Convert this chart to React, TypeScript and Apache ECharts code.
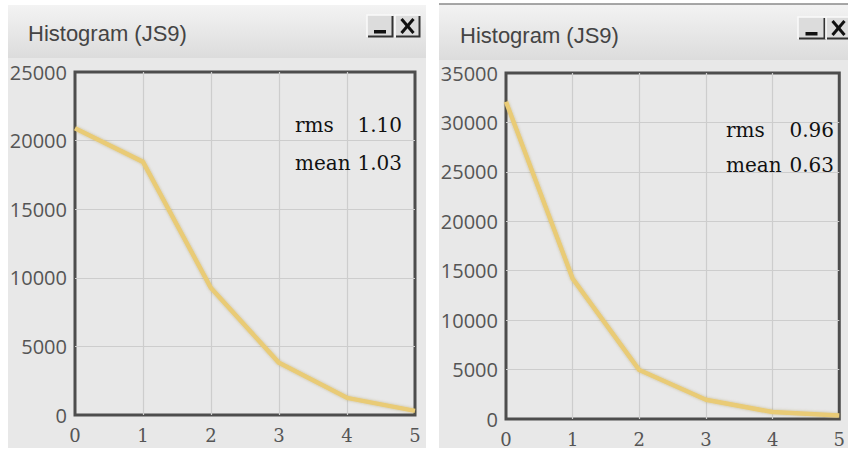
import React, { useEffect, useRef } from "react";
import * as echarts from "echarts";

const xValues = [0, 1, 2, 3, 4, 5];
const leftCounts = [20900, 18450, 9250, 3800, 1250, 300];
const rightCounts = [32100, 14200, 4950, 1950, 700, 350];
const leftYMax = 25000;
const rightYMax = 35000;
const yInterval = 5000;
const statNames = ["rms", "mean"];
const leftStatValues = ["1.10", "1.03"];
const rightStatValues = ["0.96", "0.63"];
const windowTitle = "Histogram (JS9)";

const LINE_COLOR = "#e9cb76";
const LABEL_COLOR = "#555";

function button(x: number, y: number, w: number, h: number, kind: "min" | "close") {
  const els: any[] = [
    { type: "rect", z: 5, shape: { x, y, width: w, height: h }, style: { fill: "#dcdcdc" } },
    { type: "polyline", z: 6, shape: { points: [[x, y + h], [x, y], [x + w, y]] }, style: { stroke: "#fafafa", lineWidth: 1.5, fill: null } },
    { type: "polyline", z: 6, shape: { points: [[x + 1, y + h - 0.5], [x + w - 0.5, y + h - 0.5], [x + w - 0.5, y + 1]] }, style: { stroke: "#333", lineWidth: 2, fill: null } },
  ];
  if (kind === "min") {
    els.push({ type: "rect", z: 7, shape: { x: x + w / 2 - 6, y: y + h - 7, width: 12, height: 3.5 }, style: { fill: "#111" } });
  } else {
    const cx = x + w / 2, cy = y + h / 2;
    els.push({ type: "line", z: 7, shape: { x1: cx - 6, y1: cy - 7, x2: cx + 6, y2: cy + 7 }, style: { stroke: "#111", lineWidth: 3 } });
    els.push({ type: "line", z: 7, shape: { x1: cx + 6, y1: cy - 7, x2: cx - 6, y2: cy + 7 }, style: { stroke: "#111", lineWidth: 3 } });
  }
  return els;
}

function windowFrame(x: number, w: number, titleTop: number, titleBottom: number, titleX: number, titleY: number, topLine: boolean) {
  const els: any[] = [
    { type: "rect", z: -20, shape: { x, y: titleTop, width: w, height: 448 - titleTop }, style: { fill: "#e8e8e8" } },
    {
      type: "rect", z: -19, shape: { x, y: titleTop, width: w, height: titleBottom - titleTop },
      style: {
        fill: new echarts.graphic.LinearGradient(0, 0, 0, 1, [
          { offset: 0, color: "#f3f3f3" },
          { offset: 1, color: "#dcdcdc" },
        ]),
      },
    },
    {
      type: "text", z: 10, x: titleX, y: titleY,
      style: { text: windowTitle, font: "22px 'Liberation Sans', Arial, sans-serif", fill: "#444", verticalAlign: "middle", align: "left" },
    },
  ];
  if (topLine) {
    els.push({ type: "line", z: -18, shape: { x1: x, y1: titleTop, x2: x + w, y2: titleTop }, style: { stroke: "#8a8a8a", lineWidth: 1.5 } });
  }
  return els;
}

function statTexts(leftX: number, rightX: number, y0: number, y1: number, values: string[]) {
  const font = "20px 'DejaVu Serif', serif";
  const ys = [y0, y1];
  const els: any[] = [];
  statNames.forEach((n, i) => {
    els.push({ type: "text", z: 20, x: leftX, y: ys[i], style: { text: n, font, fill: "#111", align: "left", verticalAlign: "middle" } });
    els.push({ type: "text", z: 20, x: rightX, y: ys[i], style: { text: values[i], font, fill: "#111", align: "right", verticalAlign: "middle" } });
  });
  return els;
}

export default function App() {
  const ref = useRef<HTMLDivElement>(null);
  useEffect(() => {
    document.body.style.margin = "0";
    document.body.style.background = "#ffffff";
    const chart = echarts.init(ref.current!, undefined, { renderer: "svg" });

    const split = { show: true, showMinLine: false, showMaxLine: false, lineStyle: { color: "#cdcdcd", width: 1.2 } };
    const xAxisCommon = (gridIndex: number) => ({
      type: "value" as const,
      gridIndex,
      min: 0,
      max: 5,
      interval: 1,
      axisLine: { show: false },
      axisTick: { show: false },
      axisLabel: { color: LABEL_COLOR, fontFamily: "'DejaVu Serif', serif", fontSize: 18, margin: 11, formatter: (v: number) => String(v) },
      splitLine: split,
    });
    const yAxisCommon = (gridIndex: number, max: number) => ({
      type: "value" as const,
      gridIndex,
      min: 0,
      max,
      interval: yInterval,
      axisLine: { show: false },
      axisTick: { show: false },
      axisLabel: { color: LABEL_COLOR, fontFamily: "'Open Sans', sans-serif", fontSize: 20, margin: 8, formatter: (v: number) => String(v) },
      splitLine: split,
    });
    const lineSeries = (idx: number, counts: number[]) => ({
      type: "line" as const,
      xAxisIndex: idx,
      yAxisIndex: idx,
      data: xValues.map((x, i) => [x, counts[i]]),
      showSymbol: false,
      symbol: "none",
      smooth: false,
      clip: true,
      lineStyle: {
        color: LINE_COLOR,
        width: 4.5,
        shadowColor: "rgba(140,110,30,0.35)",
        shadowBlur: 3,
      },
      z: 5,
    });

    chart.setOption({
      animation: false,
      backgroundColor: "#ffffff",
      grid: [
        { left: 75, right: 848 - 415, top: 72, bottom: 450 - 415, show: true, borderColor: "#4d4d4d", borderWidth: 3, backgroundColor: "transparent", containLabel: false },
        { left: 506, right: 3, top: 73, bottom: 450 - 419, show: true, borderColor: "#4d4d4d", borderWidth: 3, backgroundColor: "transparent", containLabel: false },
      ],
      xAxis: [xAxisCommon(0), xAxisCommon(1)],
      yAxis: [yAxisCommon(0, leftYMax), yAxisCommon(1, rightYMax)],
      series: [lineSeries(0, leftCounts), lineSeries(1, rightCounts)],
      graphic: [
        ...windowFrame(8, 418, 5, 58, 28, 33, false),
        ...windowFrame(439, 420, 4, 60, 460, 35, true),
        ...button(367, 15, 26, 22, "min"),
        ...button(395, 15, 25, 22, "close"),
        ...button(798, 17, 27, 22, "min"),
        ...button(826, 17, 25, 22, "close"),
        ...statTexts(295, 402, 125, 163, leftStatValues),
        ...statTexts(726, 834, 130, 165, rightStatValues),
      ],
    });
    return () => chart.dispose();
  }, []);
  return <div ref={ref} style={{ width: 848, height: 450 }} />;
}
